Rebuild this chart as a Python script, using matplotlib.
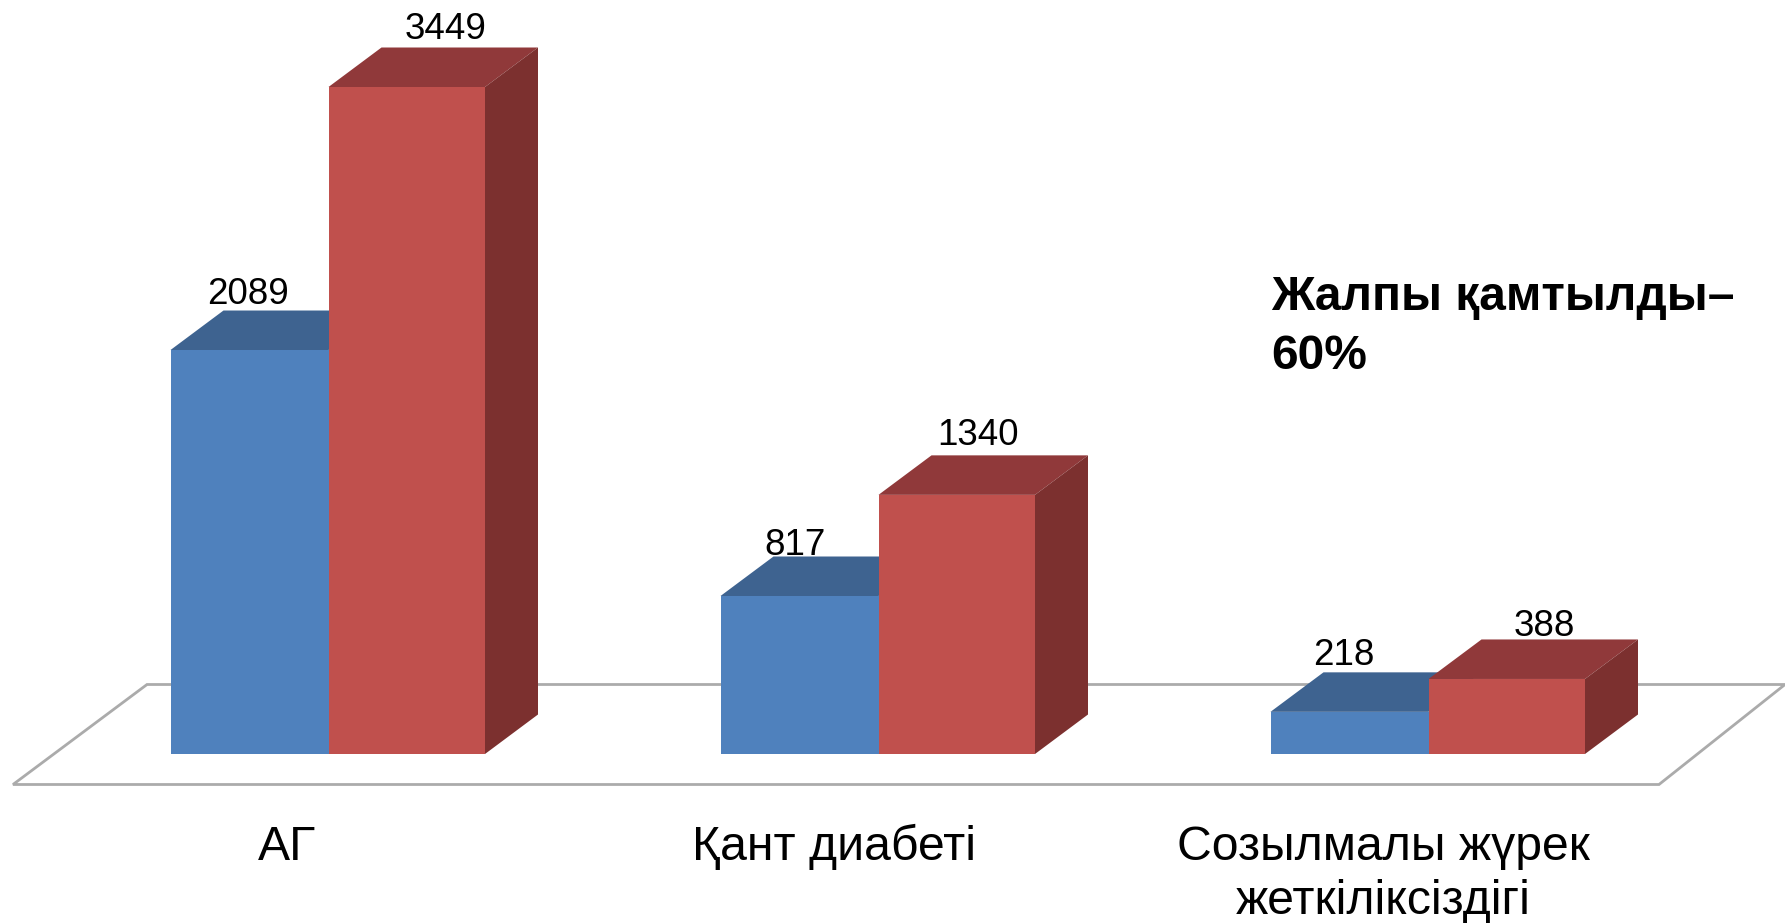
import matplotlib
matplotlib.use('Agg')
import matplotlib.pyplot as plt
from matplotlib.patches import Polygon

plt.rcParams['font.family'] = ['Liberation Sans', 'DejaVu Sans']

categories = ['АГ', 'Қант диабеті', 'Созылмалы жүрек\nжеткіліксіздігі']
series_blue = [2089, 817, 218]
series_red = [3449, 1340, 388]
note = 'Жалпы қамтылды–\n60%'

W, H = 1785, 923
px_per_unit = 667 / 3449
px_per_group = 550
base_y = 754
first_x = 328.5

# fake 3d look, depth in data units
blue_w = 158 / px_per_group
red_w = 156.5 / px_per_group
depth_x = 53 / px_per_group
depth_y = 39.5 / px_per_unit

blue_front, blue_top = '#4F81BD', '#3E6390'
red_front, red_top, red_side = '#C0504D', '#90393A', '#7C302F'

# label nudges in px (dx, dy from the back of the top face)
blue_nudge = [(-2, 7), (-4, 2), (-6, 7)]
red_nudge = [(39, 8), (21, 10), (38, 3)]

fig = plt.figure(figsize=(W / 100, H / 100), dpi=100)
ax = fig.add_axes([0, 0, 1, 1])
ax.set_xlim(-first_x / px_per_group, (W - first_x) / px_per_group)
ax.set_ylim(-(H - base_y) / px_per_unit, base_y / px_per_unit)
ax.axis('off')

# floor
floor = [(13, 784.5), (147, 684.5), (1785, 684.5), (1659, 784.5)]
ax.add_patch(Polygon([(x / W, 1 - y / H) for x, y in floor], closed=True, fill=False,
                     edgecolor='#ABABAB', linewidth=2, transform=fig.transFigure, zorder=1))


def draw_bars(xs, vals, w, front, top, side, z):
    ax.bar(xs, vals, width=w, align='edge', color=front, linewidth=0, zorder=z + 1)
    for x, v in zip(xs, vals):
        ax.add_patch(Polygon([(x, v), (x + w, v), (x + w + depth_x, v + depth_y), (x + depth_x, v + depth_y)],
                             closed=True, facecolor=top, linewidth=0, zorder=z))
        if side is not None:
            ax.add_patch(Polygon([(x + w, 0), (x + w + depth_x, depth_y), (x + w + depth_x, v + depth_y), (x + w, v)],
                                 closed=True, facecolor=side, linewidth=0, zorder=z))


pos = list(range(len(categories)))
draw_bars([p - blue_w for p in pos], series_blue, blue_w, blue_front, blue_top, None, 2)
draw_bars(pos, series_red, red_w, red_front, red_top, red_side, 4)

for p, v, n in zip(pos, series_blue, blue_nudge):
    ax.annotate(str(v), (p - blue_w / 2, v + depth_y), xytext=(n[0] * 0.72, n[1] * 0.72), textcoords='offset points',
                ha='center', va='baseline', fontsize=26.5, color='black', zorder=10)
for p, v, n in zip(pos, series_red, red_nudge):
    ax.annotate(str(v), (p + red_w / 2, v + depth_y), xytext=(n[0] * 0.72, n[1] * 0.72), textcoords='offset points',
                ha='center', va='baseline', fontsize=26.5, color='black', zorder=10)

# category labels sit by hand, they are not centred on the groups
label_x = [287, 834, 1383]
label_y = [860, 860, 857]
for name, x, y in zip(categories, label_x, label_y):
    n_lines = name.count('\n')
    fig.text(x / W, 1 - (y + 57 * n_lines) / H, name, ha='center', va='baseline', multialignment='center',
             fontsize=34.7, linespacing=1.27, color='black')

fig.text(1271 / W, 1 - 369 / H, note, ha='left', va='baseline', fontsize=34.5, fontweight='bold',
         linespacing=1.4, color='black')

fig.savefig('out.png', dpi=100)
